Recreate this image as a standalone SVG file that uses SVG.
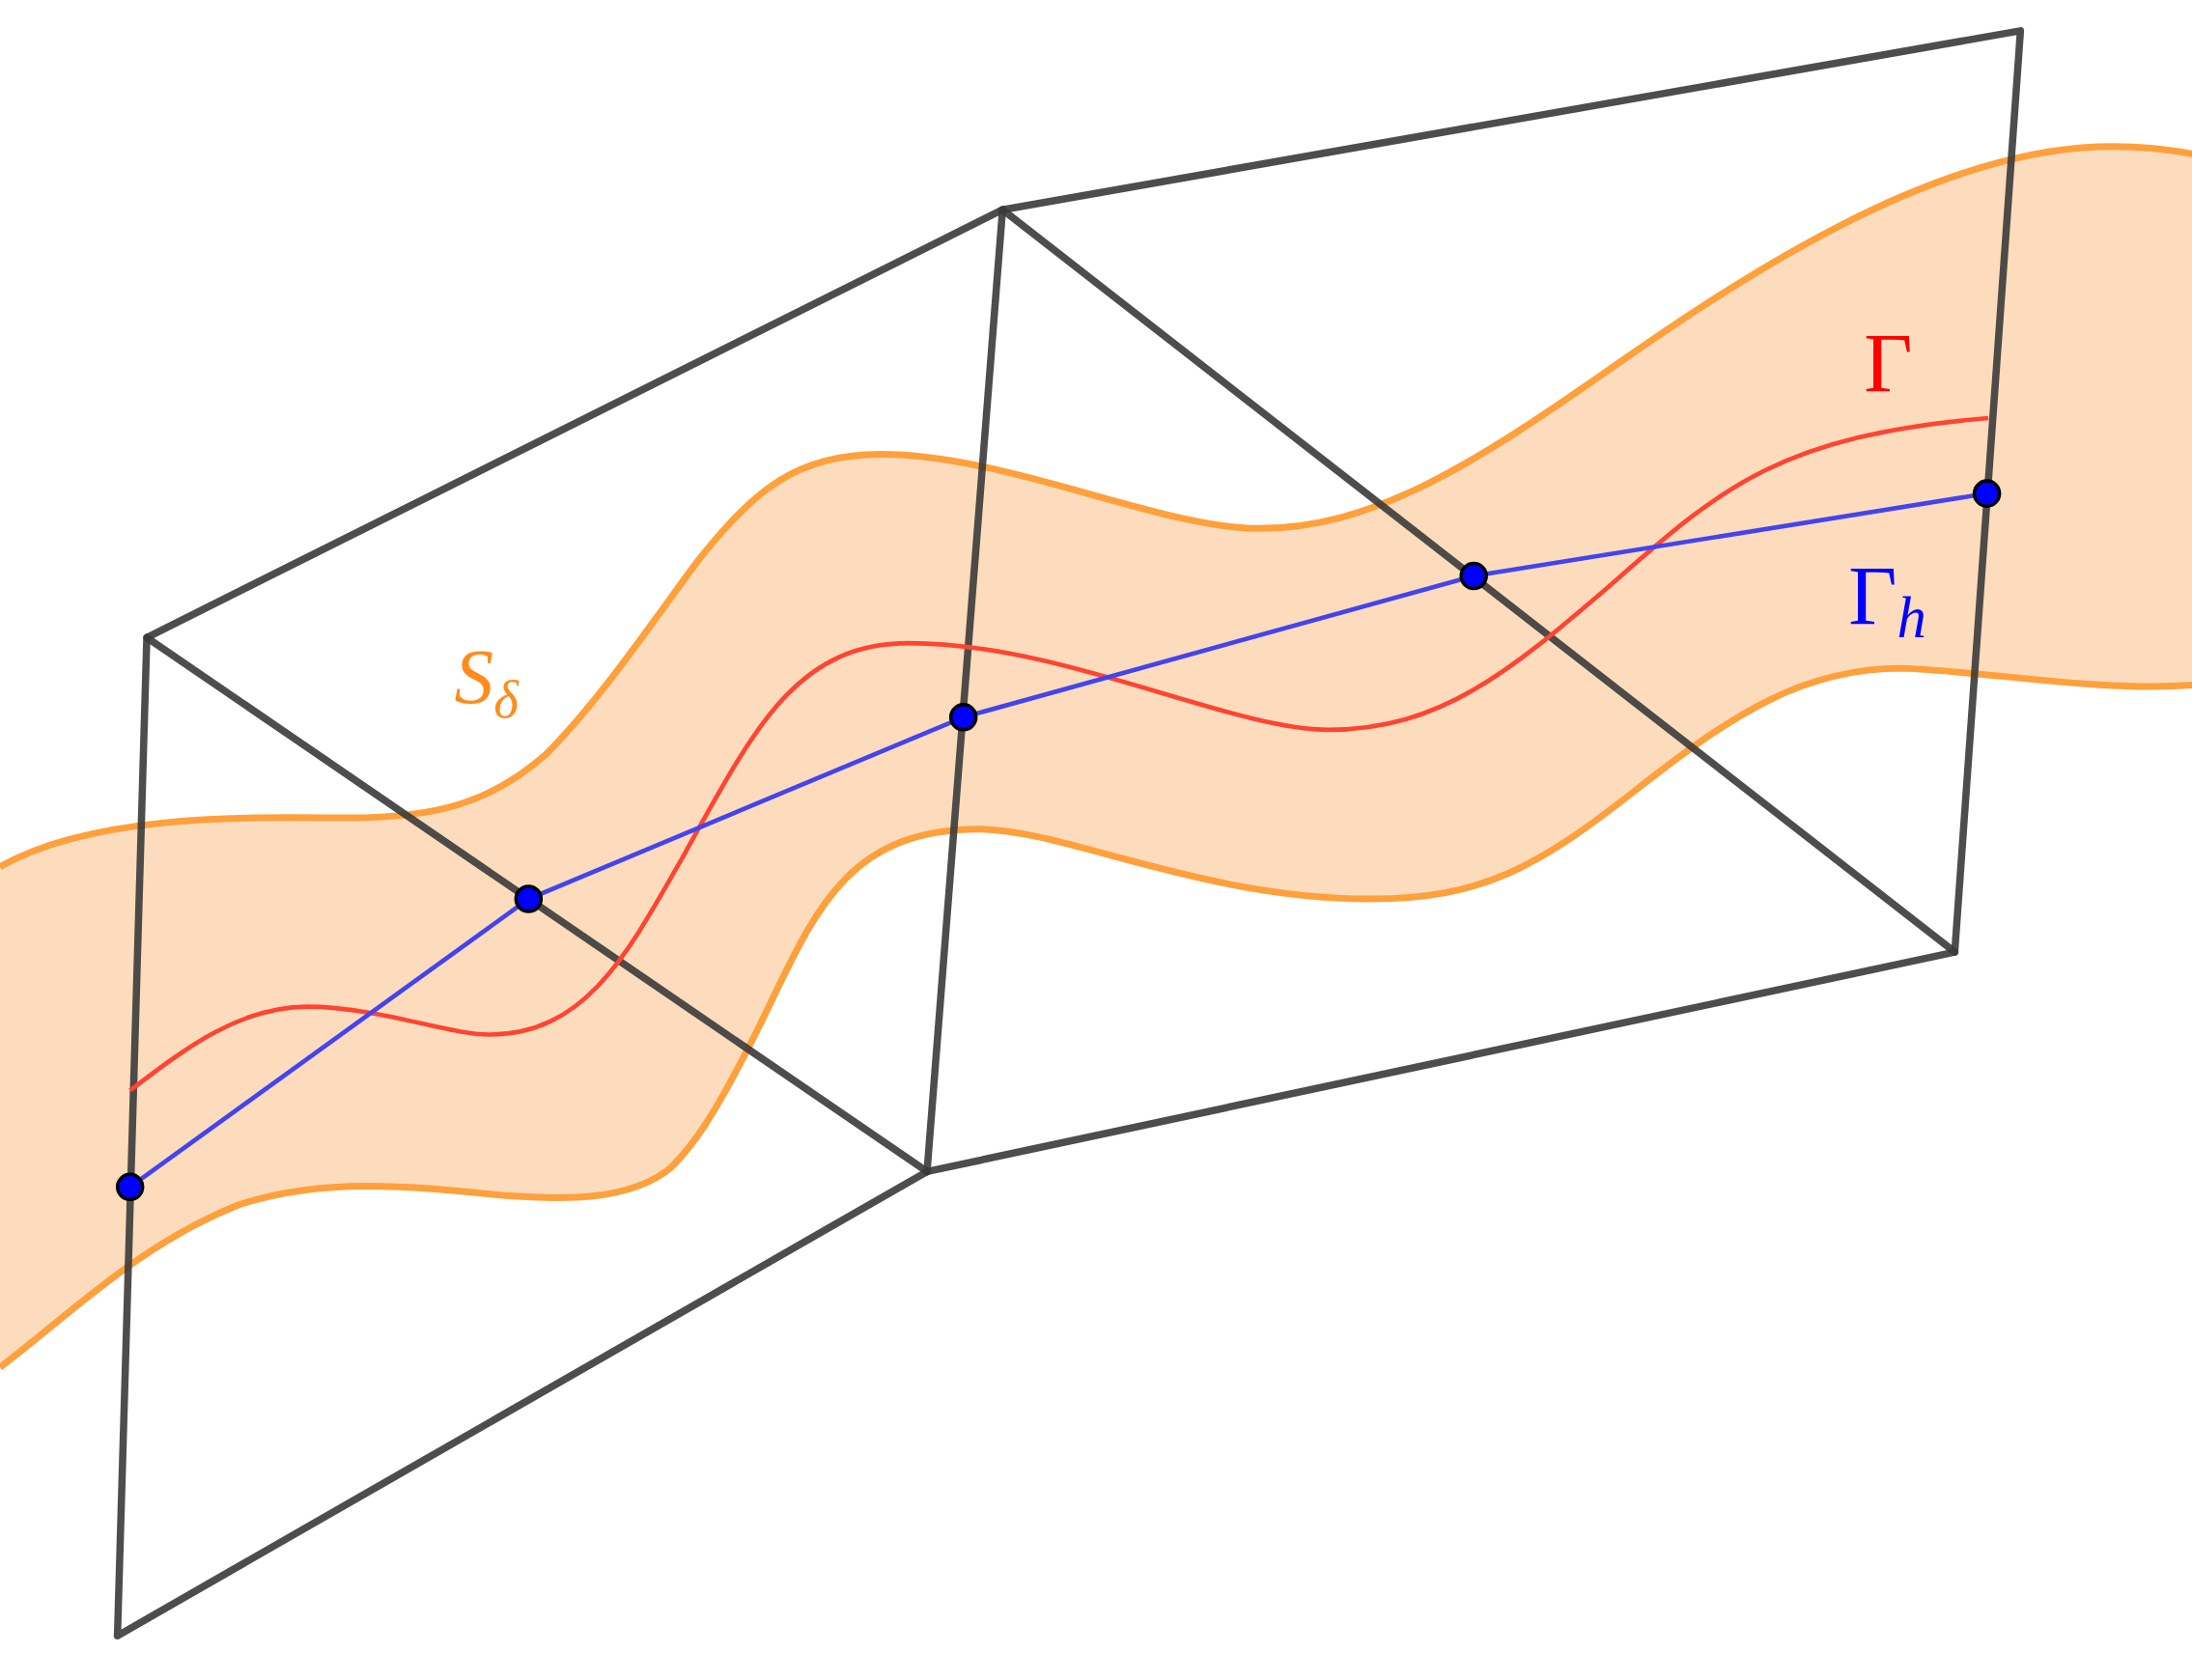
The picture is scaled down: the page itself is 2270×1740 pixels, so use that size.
<svg xmlns="http://www.w3.org/2000/svg" width="2270" height="1740" viewBox="0 0 2270 1740">
<style>
.fr{stroke:#3a3a3a;stroke-opacity:0.9;stroke-width:5.2;fill:none;stroke-linecap:round;stroke-linejoin:round}
.band{fill:#fddcbd;stroke:none}
.bd{fill:none;stroke:#ffa03c;stroke-width:4.8}
.g{fill:none;stroke:#ff4433;stroke-width:3.2}
.gh{fill:none;stroke:#4444ee;stroke-width:3.2}
.pt{fill:#0000ff;stroke:#000;stroke-width:2.4}
.lbl{font-family:"Liberation Serif",serif}
</style>
<rect width="2270" height="1740" fill="#fff"/>
<g transform="scale(1.448)">
<g id="band">
<path class="band" d="M0,620 C70,580 190,585 250,585 C310,585 350,575 390,540 C430,500 470,440 500,400 C540,350 570,325 630,325 C720,325 830,378 900,378 C980,378 1050,335 1150,265 C1250,195 1380,110 1500,105 C1530,104 1550,107 1568,110 L1568,490 C1500,495 1420,480 1360,478 C1290,478 1240,510 1170,565 C1100,620 1060,643 980,643 C860,643 760,593 700,593 C600,593 580,660 540,740 C510,800 495,820 480,835 C450,860 400,858 360,855 C290,848 230,842 170,862 C100,890 50,940 0,978 Z"/>
<path class="bd" d="M0,620 C70,580 190,585 250,585 C310,585 350,575 390,540 C430,500 470,440 500,400 C540,350 570,325 630,325 C720,325 830,378 900,378 C980,378 1050,335 1150,265 C1250,195 1380,110 1500,105 C1530,104 1550,107 1568,110"/>
<path class="bd" d="M1568,490 C1500,495 1420,480 1360,478 C1290,478 1240,510 1170,565 C1100,620 1060,643 980,643 C860,643 760,593 700,593 C600,593 580,660 540,740 C510,800 495,820 480,835 C450,860 400,858 360,855 C290,848 230,842 170,862 C100,890 50,940 0,978"/>
</g>
<g id="frame">
<polyline class="fr" points="84,1170 105,456 717,150 1445,22 1398,681 663,838 84,1170"/>
<line class="fr" x1="105" y1="456" x2="663" y2="838"/>
<line class="fr" x1="717" y1="150" x2="663" y2="838"/>
<line class="fr" x1="717" y1="150" x2="1398" y2="681"/>
</g>
<g id="connectors">
<path class="g" d="M93,780 C130,752 170,720 220,720 C270,720 320,740 350,740 C420,740 450,680 490,610 C540,520 570,460 650,460 C760,460 880,522 950,522 C1030,522 1080,480 1150,420 C1230,350 1270,312 1422,299"/>
<polyline class="gh" points="93,849 378,643 689,513 1054,412 1421,353"/>
</g>
<g id="points">
<circle class="pt" cx="93" cy="849" r="9"/>
<circle class="pt" cx="378" cy="643" r="9"/>
<circle class="pt" cx="689" cy="513" r="9"/>
<circle class="pt" cx="1054" cy="412" r="9"/>
<circle class="pt" cx="1421" cy="353" r="9"/>
</g>
<g id="labels" class="lbl">
<text x="1333" y="280" font-size="60" fill="#ff0000">Γ</text>
<text x="1322" y="446" font-size="60" fill="#0000ff">Γ<tspan font-size="42" font-style="italic" dy="10">h</tspan></text>
<text x="325" y="503" font-size="56" font-style="italic" fill="#ff8c1a">S<tspan font-size="38" dy="10">δ</tspan></text>
</g>
</g>
</svg>
